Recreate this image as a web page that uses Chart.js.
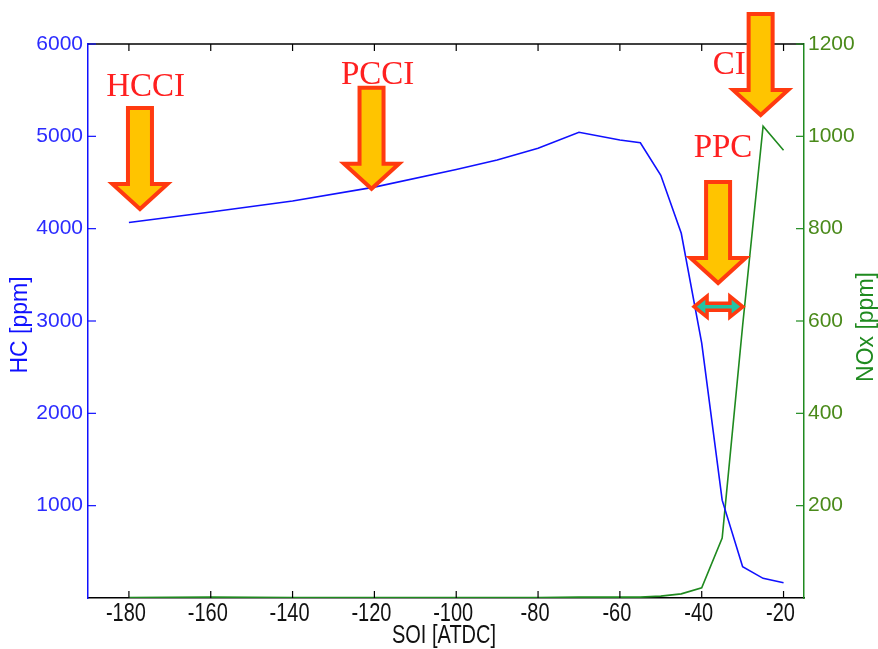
<!DOCTYPE html>
<html>
<head>
<meta charset="utf-8">
<script src="https://cdn.jsdelivr.net/npm/chart.js@4.4.1/dist/chart.umd.min.js"></script>
<style>
  body { margin: 0; background: #fff; }
  canvas { display: block; }
</style>
</head>
<body>
<canvas id="myChart" width="878" height="649"></canvas>
<script>
// SOI sweep, HC and NOx
const soi = [-180, -160, -140, -120, -100, -90, -80, -70, -60, -55, -50, -45, -40, -35, -30, -25, -20];
const hc  = [4066, 4180, 4300, 4450, 4640, 4744, 4870, 5044, 4960, 4930, 4578, 3950, 2760, 1060, 339, 213, 166];
const nox = [1, 2, 1, 1, 1, 1, 1, 2, 2, 2, 4, 9, 22, 130, 590, 1022, 970];

const xTicks   = [-180, -160, -140, -120, -100, -80, -60, -40, -20];
const hcTicks  = [1000, 2000, 3000, 4000, 5000, 6000];
const noxTicks = [200, 400, 600, 800, 1000, 1200];

const blue = '#1010ff';
const green = '#1f8a1f';

// combustion regime labels, placed in SOI / HC units
const regimes = [
  { text: 'HCCI', tx: -175.9, ty: 5437, ax: -177.3, ay: 4181 },
  { text: 'PCCI', tx: -119.2, ty: 5567, ax: -120.7, ay: 4400 },
  { text: 'CI',   tx: -33.3,  ty: 5675, ax: -25.6,  ay: 5199 },
  { text: 'PPC',  tx: -34.8,  ty: 4776, ax: -36.0,  ay: 3379 }
];
const ppcRange = { from: -42.6, to: -29.2, at: 3155 };

function downArrow(ctx, x, y) {
  y -= 3;
  ctx.beginPath();
  ctx.moveTo(x, y);
  ctx.lineTo(x - 27.5, y - 25);
  ctx.lineTo(x - 12, y - 25);
  ctx.lineTo(x - 12, y - 101);
  ctx.lineTo(x + 12, y - 101);
  ctx.lineTo(x + 12, y - 25);
  ctx.lineTo(x + 27.5, y - 25);
  ctx.closePath();
  ctx.fillStyle = '#ffc400';
  ctx.fill();
  ctx.lineWidth = 4;
  ctx.lineJoin = 'miter';
  ctx.strokeStyle = '#ff3a10';
  ctx.stroke();
}

function sideArrow(ctx, x1, x2, y) {
  x1 += 3; x2 -= 3;
  ctx.beginPath();
  ctx.moveTo(x1, y);
  ctx.lineTo(x1 + 13, y - 10.5);
  ctx.lineTo(x1 + 13, y - 3.5);
  ctx.lineTo(x2 - 13, y - 3.5);
  ctx.lineTo(x2 - 13, y - 10.5);
  ctx.lineTo(x2, y);
  ctx.lineTo(x2 - 13, y + 10.5);
  ctx.lineTo(x2 - 13, y + 3.5);
  ctx.lineTo(x1 + 13, y + 3.5);
  ctx.lineTo(x1 + 13, y + 10.5);
  ctx.closePath();
  ctx.fillStyle = '#22c4a4';
  ctx.fill();
  ctx.lineWidth = 3.5;
  ctx.strokeStyle = '#ff3a10';
  ctx.stroke();
}

// condensed text: squeeze a normal font horizontally
function narrowText(ctx, text, x, y, squeeze) {
  ctx.save();
  ctx.translate(x, y);
  ctx.scale(squeeze, 1);
  ctx.fillText(text, 0, 0);
  ctx.restore();
}

const extras = {
  id: 'extras',
  afterDatasetsDraw(chart) {
    const ctx = chart.ctx;
    const a = chart.chartArea;
    const sx = chart.scales.x, sy = chart.scales.y, sy2 = chart.scales.y2;
    ctx.save();

    // top frame line
    ctx.strokeStyle = '#000';
    ctx.lineWidth = 1.5;
    ctx.beginPath();
    ctx.moveTo(a.left, a.top);
    ctx.lineTo(a.right, a.top);
    ctx.stroke();

    // inward ticks
    ctx.lineWidth = 1.2;
    xTicks.forEach(v => {
      const px = sx.getPixelForValue(v);
      ctx.beginPath();
      ctx.moveTo(px, a.bottom); ctx.lineTo(px, a.bottom - 7);
      ctx.moveTo(px, a.top); ctx.lineTo(px, a.top + 7);
      ctx.stroke();
    });
    ctx.strokeStyle = blue;
    hcTicks.forEach(v => {
      const py = sy.getPixelForValue(v);
      ctx.beginPath();
      ctx.moveTo(a.left, py); ctx.lineTo(a.left + 8, py);
      ctx.stroke();
    });
    ctx.strokeStyle = green;
    noxTicks.forEach(v => {
      const py = sy2.getPixelForValue(v);
      ctx.beginPath();
      ctx.moveTo(a.right, py); ctx.lineTo(a.right - 8, py);
      ctx.stroke();
    });

    // x tick labels and title, tall narrow lettering
    ctx.font = '25px "Liberation Sans", Arial, sans-serif';
    ctx.textAlign = 'center';
    ctx.textBaseline = 'alphabetic';
    ctx.fillStyle = '#111';
    xTicks.forEach(v => {
      narrowText(ctx, String(v), sx.getPixelForValue(v) - 3, a.bottom + 23, 0.8);
    });
    narrowText(ctx, 'SOI [ATDC]', (a.left + a.right) / 2 - 2, a.bottom + 45, 0.8);

    // axis titles, both reading upwards
    ctx.font = '23px "Liberation Sans", Arial, sans-serif';
    ctx.textBaseline = 'middle';
    ctx.fillStyle = blue;
    ctx.save();
    ctx.translate(21, 325);
    ctx.rotate(-Math.PI / 2);
    ctx.fillText('HC [ppm]', 0, 0);
    ctx.restore();
    ctx.fillStyle = green;
    ctx.save();
    ctx.translate(867, 327);
    ctx.rotate(-Math.PI / 2);
    ctx.fillText('NOx [ppm]', 0, 0);
    ctx.restore();

    // regime labels and arrows
    ctx.font = '33px "Liberation Serif", "Times New Roman", serif';
    ctx.textBaseline = 'alphabetic';
    ctx.fillStyle = '#ff2020';
    regimes.forEach(r => {
      ctx.fillText(r.text, sx.getPixelForValue(r.tx), sy.getPixelForValue(r.ty));
    });
    regimes.forEach(r => {
      downArrow(ctx, sx.getPixelForValue(r.ax), sy.getPixelForValue(r.ay));
    });
    sideArrow(ctx, sx.getPixelForValue(ppcRange.from), sx.getPixelForValue(ppcRange.to),
      sy.getPixelForValue(ppcRange.at));

    ctx.restore();
  }
};

const config = {
  type: 'line',
  data: {
    datasets: [
      {
        label: 'HC',
        data: soi.map((s, i) => ({ x: s, y: hc[i] })),
        borderColor: blue,
        borderWidth: 1.6,
        pointRadius: 0,
        tension: 0,
        yAxisID: 'y'
      },
      {
        label: 'NOx',
        data: soi.map((s, i) => ({ x: s, y: nox[i] })),
        borderColor: green,
        borderWidth: 1.6,
        pointRadius: 0,
        tension: 0,
        yAxisID: 'y2'
      }
    ]
  },
  options: {
    responsive: false,
    animation: false,
    devicePixelRatio: 1,
    layout: { padding: { top: 44, left: 0, right: 0, bottom: 0 } },
    plugins: {
      legend: { display: false },
      tooltip: { enabled: false }
    },
    scales: {
      x: {
        type: 'linear',
        min: -190,
        max: -15,
        afterBuildTicks: s => { s.ticks = xTicks.map(v => ({ value: v })); },
        afterFit: s => { s.height = 51; },
        grid: { drawOnChartArea: false, drawTicks: false },
        border: { color: '#000', width: 1.5 },
        ticks: { display: false }
      },
      y: {
        position: 'left',
        min: 0,
        max: 6000,
        afterBuildTicks: s => { s.ticks = hcTicks.map(v => ({ value: v })); },
        afterFit: s => { s.width = 88; },
        grid: { drawOnChartArea: false, drawTicks: false },
        border: { color: blue, width: 1.5 },
        ticks: {
          color: '#2b2bff',
          padding: 5,
          callback: v => String(v),
          font: { family: '"Liberation Sans", Arial, sans-serif', size: 21 }
        }
      },
      y2: {
        position: 'right',
        min: 0,
        max: 1200,
        afterBuildTicks: s => { s.ticks = noxTicks.map(v => ({ value: v })); },
        afterFit: s => { s.width = 74; },
        grid: { drawOnChartArea: false, drawTicks: false },
        border: { color: green, width: 1.5 },
        ticks: {
          color: '#4a8a1a',
          padding: 4,
          callback: v => String(v),
          font: { family: '"Liberation Sans", Arial, sans-serif', size: 21 }
        }
      }
    }
  },
  plugins: [extras]
};

new Chart(document.getElementById('myChart'), config);
</script>
</body>
</html>
